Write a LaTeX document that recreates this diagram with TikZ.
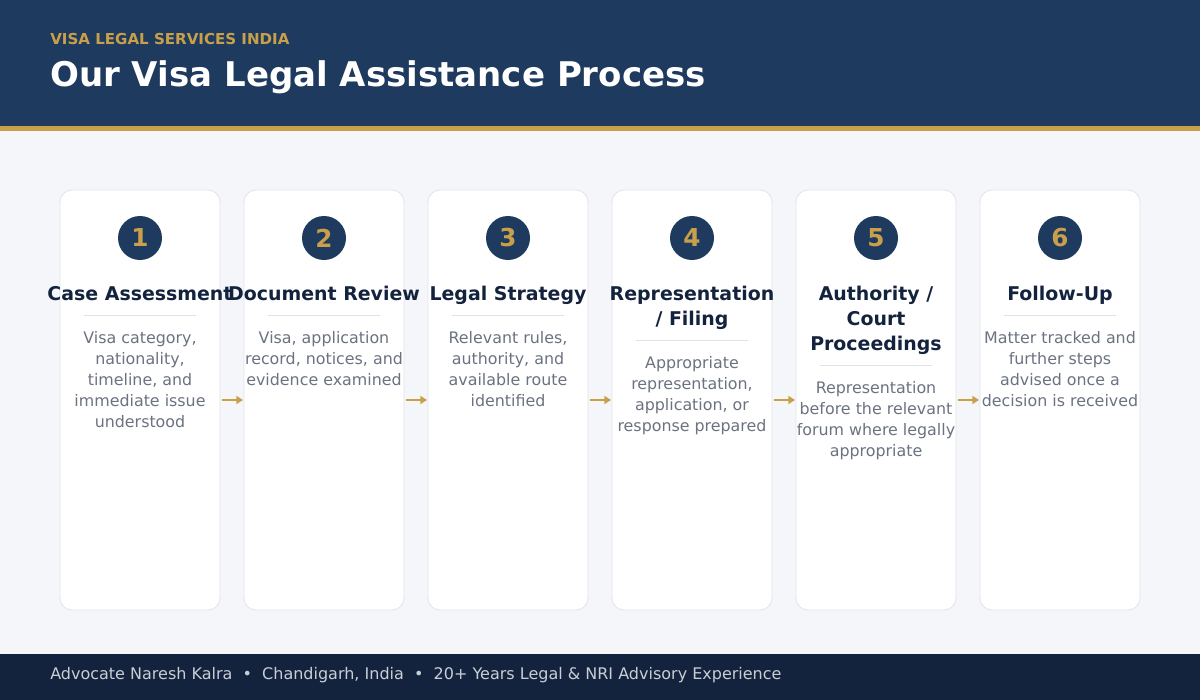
\documentclass[tikz,border=0pt]{standalone}
\usepackage{fontspec}
\setmainfont{DejaVu Sans}
\definecolor{navy}{HTML}{1F3A5F}
\definecolor{darknavy}{HTML}{14233D}
\definecolor{gold}{HTML}{C9A04A}
\definecolor{pagebg}{HTML}{F5F6FA}
\definecolor{cardline}{HTML}{E0E3EA}
\definecolor{bodygray}{HTML}{6B7280}
\tikzset{
  card/.style={draw=cardline, fill=white, rounded corners=9pt, line width=0.6pt},
  stepnum/.style={circle, fill=navy, minimum size=33pt, inner sep=0pt, text=gold, font=\bfseries\fontsize{18.5}{20}\selectfont},
  steptitle/.style={anchor=north, inner sep=0pt, align=center, text=darknavy, font=\bfseries\fontsize{14.2}{18.75}\selectfont},
  stepbody/.style={anchor=north, inner sep=0pt, align=center, text=bodygray, font=\fontsize{11.9}{15.75}\selectfont},
  steparrow/.style={-{Triangle[length=5pt,width=6pt]}, draw=gold, line width=1.5pt}
}
\usetikzlibrary{arrows.meta}
\begin{document}
\begin{tikzpicture}[x=0.75pt,y=-0.75pt]
  \useasboundingbox (0,0) rectangle (1200,700);
  % background, header, footer
  \fill[pagebg] (0,0) rectangle (1200,700);
  \fill[navy] (0,0) rectangle (1200,126);
  \fill[gold] (0,126) rectangle (1200,131);
  \fill[darknavy] (0,654) rectangle (1200,700);
  \node[anchor=west, inner sep=0pt, text=gold, font=\bfseries\fontsize{11.3}{12}\selectfont] (kicker) at (50,39) {VISA LEGAL SERVICES INDIA};
  \node[anchor=west, inner sep=0pt, text=white, font=\bfseries\fontsize{25.5}{28}\selectfont] (title) at (50,77) {Our Visa Legal Assistance Process};
  \node[anchor=west, inner sep=0pt, text=cardline!80!bodygray, font=\fontsize{12}{14}\selectfont] (footer) at (50,675) {Advocate Naresh Kalra \ • \ Chandigarh, India \ • \ 20+ Years Legal \& NRI Advisory Experience};

  % cards
  \foreach \i/\t/\n/\b in {
    1/{Case Assessment}/1/{Visa category,\\nationality,\\timeline, and\\immediate issue\\understood},
    2/{Document Review}/1/{Visa, application\\record, notices, and\\evidence examined},
    3/{Legal Strategy}/1/{Relevant rules,\\authority, and\\available route\\identified},
    4/{Representation\\/ Filing}/2/{Appropriate\\representation,\\application, or\\response prepared},
    5/{Authority /\\Court\\Proceedings}/3/{Representation\\before the relevant\\forum where legally\\appropriate},
    6/{Follow-Up}/1/{Matter tracked and\\further steps\\advised once a\\decision is received}} {
    \pgfmathsetmacro{\cx}{140+184*(\i-1)}
    \pgfmathsetmacro{\dy}{315+25*(\n-1)}
    \draw[card] (\cx-80,190) rectangle (\cx+80,610);
    \node[stepnum] (num\i) at (\cx,238) {\i};
    \node[steptitle] (head\i) at (\cx,286) {\t};
    \draw[cardline, line width=0.6pt] (\cx-56,\dy) -- (\cx+56,\dy);
    \node[stepbody] (text\i) at (\cx,\dy+16) {\b};
  }
  % arrows between cards
  \foreach \i in {1,...,5} {
    \pgfmathsetmacro{\ax}{222+184*(\i-1)}
    \coordinate (from\i) at (\ax,400);
    \coordinate (to\i) at (\ax+21,400);
    \draw[steparrow] (from\i) -- (to\i);
  }
\end{tikzpicture}
\end{document}
